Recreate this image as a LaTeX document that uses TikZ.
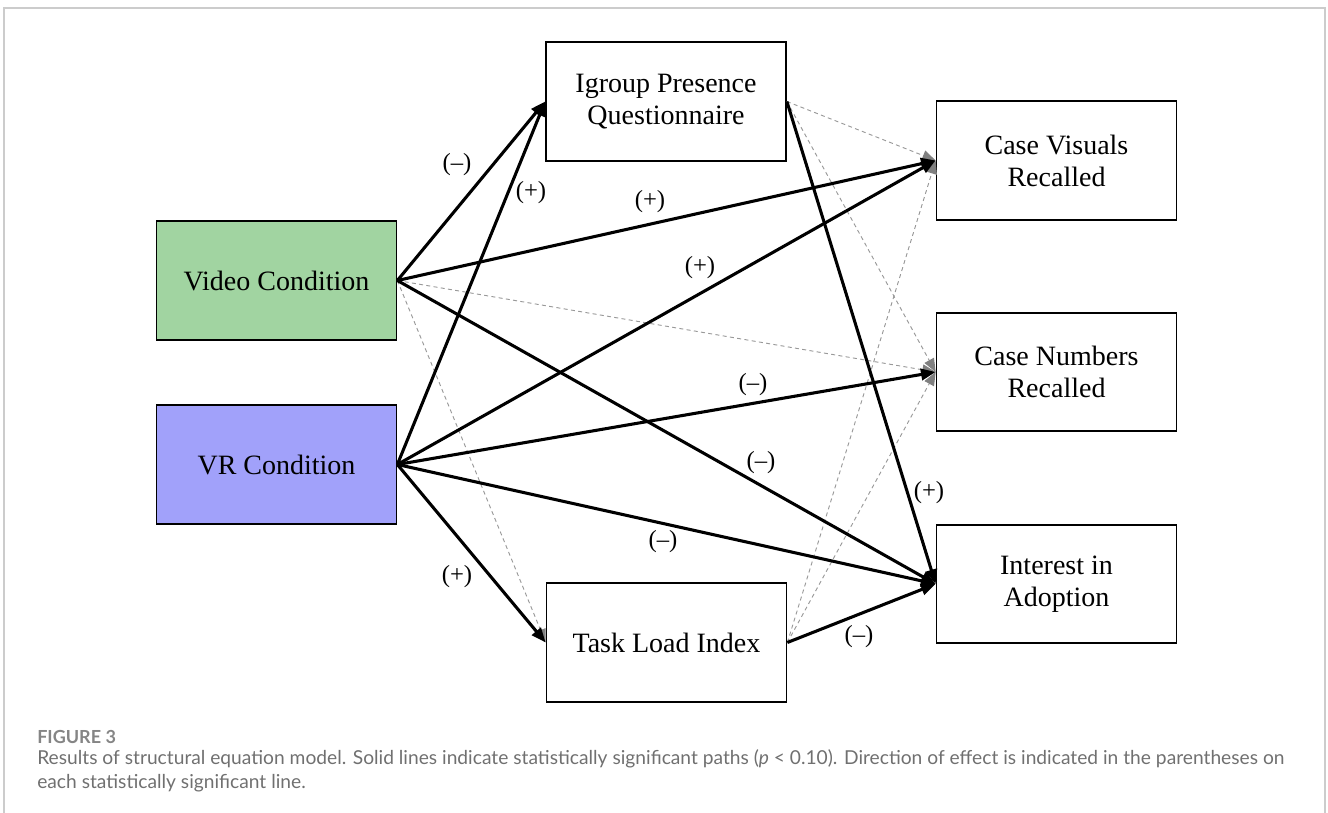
\documentclass[tikz,border=0pt]{standalone}
\usepackage{fontspec}
\setmainfont{Liberation Serif}
\newfontfamily\capfont{Lato}
\usetikzlibrary{arrows.meta,positioning}
\definecolor{videogreen}{RGB}{161,212,161}
\definecolor{vrblue}{RGB}{161,161,250}
\definecolor{framegray}{RGB}{204,204,204}
\definecolor{capgray}{RGB}{112,112,112}

\begin{document}
\begin{tikzpicture}[
    x=0.75pt, y=-0.75pt,
    box/.style={rectangle, draw, line width=1.3pt, minimum width=180pt, minimum height=89pt, inner sep=0pt, align=center, font=\fontsize{21}{24}\selectfont},
    sig/.style={-{Triangle[length=11pt,width=8.5pt]}, line width=2.3pt},
    nonsig/.style={-{Triangle[length=10pt,width=8pt,color=gray]}, draw=gray!80, dash pattern=on 3pt off 2.5pt, line width=0.7pt},
    sign/.style={font=\fontsize{18.5}{18.5}\selectfont, inner sep=1pt},
    caption/.style={anchor=base west, inner sep=0pt, text=capgray, font=\capfont\fontsize{14.4}{16}\selectfont}
]
    \useasboundingbox (0,0) rectangle (1328,813);
    \draw[framegray, line width=1.2pt] (4,820) -- (4,8) -- (1325,8) -- (1325,820);

    % boxes
    \node[box, fill=videogreen] (video) at (276.5,280.5) {Video Condition};
    \node[box, fill=vrblue] (vr) at (276.5,464.5) {VR Condition};
    \node[box] (igroup) at (666,101.5) {Igroup Presence\\Questionnaire};
    \node[box] (task) at (666.5,642.5) {Task Load Index};
    \node[box] (visuals) at (1056.5,160.5) {Case Visuals\\Recalled};
    \node[box] (numbers) at (1056.5,372) {Case Numbers\\Recalled};
    \node[box] (interest) at (1056.5,584) {Interest in\\Adoption};

    % non-significant paths
    \draw[nonsig] (video.east) -- (numbers.west);
    \draw[nonsig] (video.east) -- (task.west);
    \draw[nonsig] (igroup.east) -- (visuals.west);
    \draw[nonsig] (igroup.east) -- (numbers.west);
    \draw[nonsig] (task.east) -- (visuals.west);
    \draw[nonsig] (task.east) -- (numbers.west);

    % significant paths
    \draw[sig] (video.east) -- (igroup.west);
    \draw[sig] (vr.east) -- (igroup.west);
    \draw[sig] (video.east) -- (visuals.west);
    \draw[sig] (vr.east) -- (visuals.west);
    \draw[sig] (vr.east) -- (numbers.west);
    \draw[sig] (video.east) -- (interest.west);
    \draw[sig] (vr.east) -- (interest.west);
    \draw[sig] (vr.east) -- (task.west);
    \draw[sig] (igroup.east) -- (interest.west);
    \draw[sig] (task.east) -- (interest.west);

    % direction of effect
    \node[sign] (s1) at (457,165) {(–)};
    \node[sign] (s2) at (531,193) {(+)};
    \node[sign] (s3) at (650,202) {(+)};
    \node[sign] (s4) at (700,268) {(+)};
    \node[sign] (s5) at (753,385) {(–)};
    \node[sign] (s6) at (761,463) {(–)};
    \node[sign] (s7) at (663,542) {(–)};
    \node[sign] (s8) at (457,577) {(+)};
    \node[sign] (s9) at (929,493) {(+)};
    \node[sign] (s10) at (859,637) {(–)};

    % caption
    \node[caption, font=\capfont\bfseries\fontsize{13.5}{14}\selectfont, text=capgray!85] (figno) at (37,743) {FIGURE 3};
    \node[caption] (capa) at (37,764) {Results of structural equation model. Solid lines indicate statistically significant paths ({\itshape p} < 0.10). Direction of effect is indicated in the parentheses on};
    \node[caption] (capb) at (37,788) {each statistically significant line.};
\end{tikzpicture}
\end{document}
